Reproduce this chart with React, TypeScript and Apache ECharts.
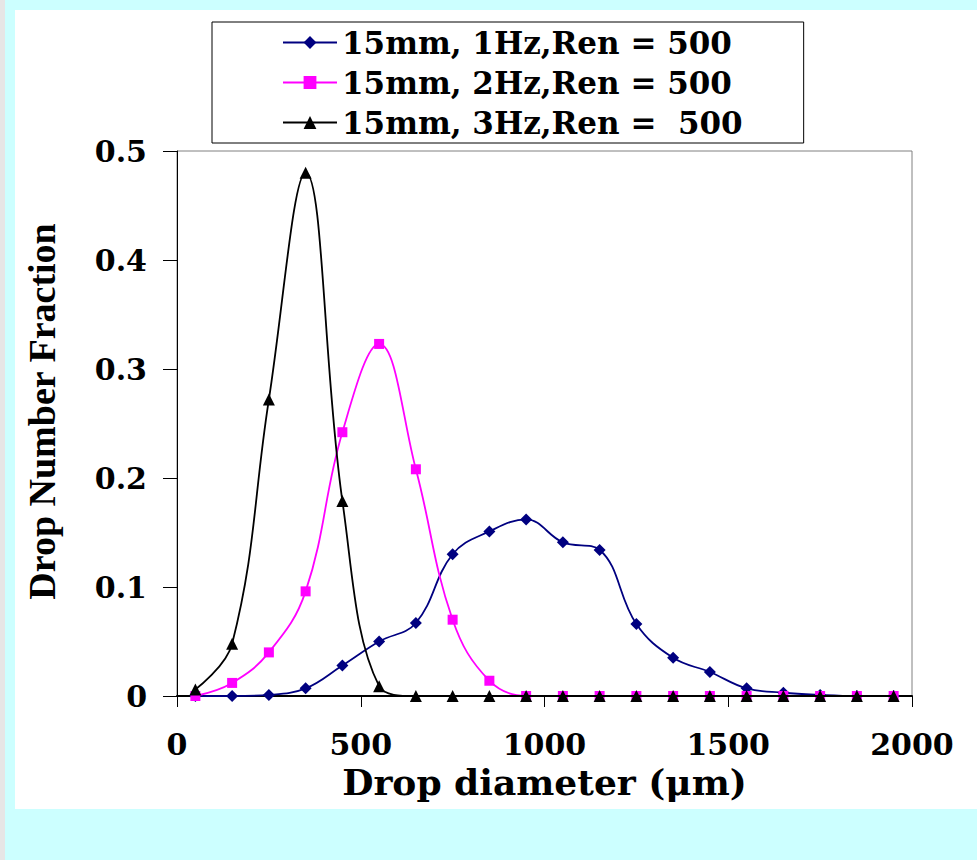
import React, { useEffect, useRef } from "react";
import * as echarts from "echarts";

const diameters = [50, 150, 250, 350, 450, 550, 650, 750, 850, 950, 1050, 1150, 1250, 1350, 1450, 1550, 1650, 1750, 1850, 1950];
const series1Hz = [0, 0, 0.001, 0.007, 0.028, 0.05, 0.067, 0.13, 0.151, 0.162, 0.141, 0.134, 0.066, 0.035, 0.022, 0.007, 0.003, 0.001, 0, 0];
const series2Hz = [0, 0.012, 0.04, 0.096, 0.242, 0.323, 0.208, 0.07, 0.014, 0, 0, 0, 0, 0, 0, 0, 0, 0, 0, 0];
const series3Hz = [0.006, 0.048, 0.272, 0.48, 0.179, 0.009, 0, 0, 0, 0, 0, 0, 0, 0, 0, 0, 0, 0, 0, 0];
const seriesNames = ["15mm, 1Hz,Ren = 500", "15mm, 2Hz,Ren = 500", "15mm, 3Hz,Ren =  500"];
const xTicks = { min: 0, max: 2000, interval: 500 };
const yTicks = { min: 0, max: 0.5, interval: 0.1 };
const xTitle = "Drop diameter (μm)";
const yTitle = "Drop Number Fraction";

const WIDE = "'DejaVu Serif', serif";
const FONT = "'Liberation Serif', 'Times New Roman', serif";

export default function App() {
  const ref = useRef<HTMLDivElement>(null);
  useEffect(() => {
    if (!ref.current) return;
    const chart = echarts.init(ref.current, null, { renderer: "svg" });
    const pair = (ys: number[]) => diameters.map((x, i) => [x, ys[i]]);
    chart.setOption({
      animation: false,
      backgroundColor: "#ccffff",
      graphic: [
        { type: "rect", left: 0, top: 0, shape: { width: 5, height: 860 }, style: { fill: "#e6e6e6" }, z: -10 },
        { type: "rect", left: 15, top: 10, shape: { width: 962, height: 799 }, style: { fill: "#ffffff" }, z: -10 },
      ],
      legend: {
        show: true,
        orient: "vertical",
        left: 212,
        top: 22,
        padding: [5, 61, 5, 70],
        itemGap: 9,
        itemWidth: 54,
        itemHeight: 16,
        borderColor: "#000",
        borderWidth: 1,
        backgroundColor: "#fff",
        textStyle: { fontFamily: WIDE, fontWeight: "bold", fontSize: 31, color: "#000" },
        data: seriesNames,
      },
      grid: {
        left: 177,
        top: 151,
        right: 65,
        bottom: 164,
        show: true,
        borderColor: "#808080",
        borderWidth: 1,
        backgroundColor: "transparent",
      },
      xAxis: {
        type: "value",
        min: xTicks.min,
        max: xTicks.max,
        interval: xTicks.interval,
        name: xTitle,
        nameLocation: "middle",
        nameGap: 67,
        nameTextStyle: { fontFamily: WIDE, fontWeight: "bold", fontSize: 36, color: "#000" },
        axisLine: { show: true, onZero: false, lineStyle: { color: "#000", width: 2 } },
        axisTick: { show: true, inside: false, length: 11, lineStyle: { color: "#000", width: 1 } },
        axisLabel: { fontFamily: WIDE, fontWeight: "bold", fontSize: 30, color: "#000", margin: 33, formatter: (v: number) => String(v) },
        splitLine: { show: false },
      },
      yAxis: {
        type: "value",
        min: yTicks.min,
        max: yTicks.max,
        interval: yTicks.interval,
        name: yTitle,
        nameLocation: "middle",
        nameGap: 116,
        nameTextStyle: { fontFamily: FONT, fontWeight: "bold", fontSize: 38, color: "#000", padding: [0, 0, 0, 24] },
        axisLine: { show: true, lineStyle: { color: "#000", width: 1 } },
        axisTick: { show: true, inside: false, length: 14, lineStyle: { color: "#000", width: 1 } },
        axisLabel: { fontFamily: WIDE, fontWeight: "bold", fontSize: 30, color: "#000", margin: 30, formatter: (v: number) => String(v) },
        splitLine: { show: false },
      },
      series: [
        {
          name: seriesNames[0],
          type: "line",
          data: pair(series1Hz),
          smooth: 0.4,
          symbol: "diamond",
          symbolSize: 12,
          itemStyle: { color: "#000080" },
          lineStyle: { color: "#000080", width: 1.8 },
          z: 2,
        },
        {
          name: seriesNames[1],
          type: "line",
          data: pair(series2Hz),
          smooth: 0.4,
          symbol: "rect",
          symbolSize: 10,
          itemStyle: { color: "#ff00ff" },
          lineStyle: { color: "#ff00ff", width: 1.8 },
          z: 3,
        },
        {
          name: seriesNames[2],
          type: "line",
          data: pair(series3Hz),
          smooth: 0.4,
          symbol: "triangle",
          symbolSize: 12,
          itemStyle: { color: "#000000" },
          lineStyle: { color: "#000000", width: 1.8 },
          z: 4,
        },
      ],
    });
    return () => chart.dispose();
  }, []);
  return (
    <div style={{ position: "absolute", left: 0, top: 0, width: 977, height: 860 }}>
      <div ref={ref} style={{ width: 977, height: 860 }} />
    </div>
  );
}
